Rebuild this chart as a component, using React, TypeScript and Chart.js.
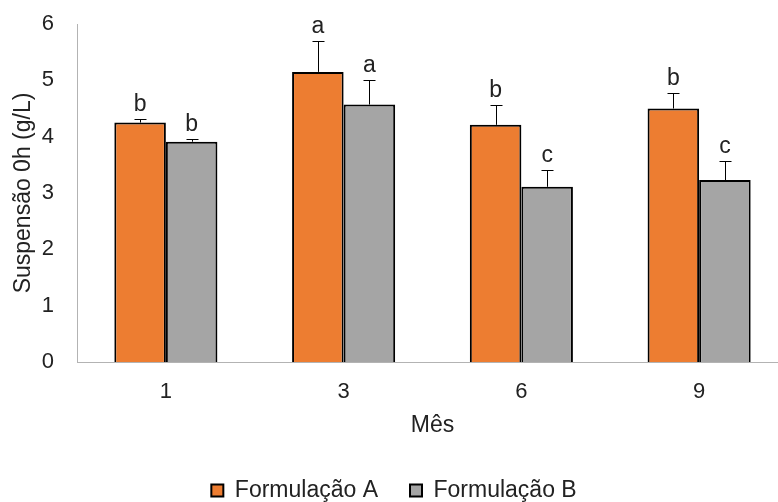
import React, { useEffect, useRef } from 'react';
import { Chart, registerables } from 'chart.js';
Chart.register(...registerables);

const categories = ['1', '3', '6', '9'];
const seriesNames = ['Formulação A', 'Formulação B'];
const valuesA = [4.25, 5.15, 4.21, 4.5];
const valuesB = [3.91, 4.57, 3.11, 3.23];
const errorsA = [0.06, 0.55, 0.35, 0.28];
const errorsB = [0.05, 0.44, 0.3, 0.34];
const lettersA = ['b', 'a', 'b', 'b'];
const lettersB = ['b', 'a', 'c', 'c'];
const yTicks = [0, 1, 2, 3, 4, 5, 6];
const xTitle = 'Mês';
const yTitle = 'Suspensão 0h (g/L)';

const FONT = '"Liberation Sans", Arial, sans-serif';
const TEXT = '#222222';

const errorLetterPlugin = {
  id: 'errorLetters',
  afterDatasetsDraw(chart: any) {
    const ctx = chart.ctx;
    const y = chart.scales.y;
    chart.data.datasets.forEach((ds: any, di: number) => {
      const meta = chart.getDatasetMeta(di);
      meta.data.forEach((bar: any, i: number) => {
        const v = ds.data[i];
        const top = Math.round(y.getPixelForValue(v + ds.errors[i])) + 0.5;
        const base = y.getPixelForValue(v);
        const x = Math.round(bar.x) + 0.5;
        ctx.save();
        ctx.strokeStyle = '#000';
        ctx.lineWidth = 1;
        ctx.beginPath();
        ctx.moveTo(x, base);
        ctx.lineTo(x, top);
        ctx.moveTo(x - 6, top);
        ctx.lineTo(x + 6, top);
        ctx.stroke();
        ctx.fillStyle = TEXT;
        ctx.font = `23px ${FONT}`;
        ctx.textAlign = 'center';
        ctx.textBaseline = 'alphabetic';
        ctx.fillText(ds.letters[i], bar.x, top - 9);
        ctx.restore();
      });
    });
  },
};

export default function App() {
  const ref = useRef<HTMLCanvasElement>(null);
  useEffect(() => {
    if (!ref.current) return;
    const chart = new Chart(ref.current, {
      type: 'bar',
      data: {
        labels: categories,
        datasets: [
          {
            label: seriesNames[0],
            data: valuesA,
            errors: errorsA,
            letters: lettersA,
            backgroundColor: '#ED7D31',
            borderColor: '#000000',
            borderWidth: 2,
            categoryPercentage: 0.58,
            barPercentage: 1,
          } as any,
          {
            label: seriesNames[1],
            data: valuesB,
            errors: errorsB,
            letters: lettersB,
            backgroundColor: '#A5A5A5',
            borderColor: '#000000',
            borderWidth: 2,
            categoryPercentage: 0.58,
            barPercentage: 1,
          } as any,
        ],
      },
      options: {
        responsive: false,
        animation: false,
        layout: { padding: { top: 24, right: 2, bottom: 0, left: 0 } },
        plugins: {
          tooltip: { enabled: false },
          legend: {
            position: 'bottom',
            labels: {
              boxWidth: 12,
              boxHeight: 12,
              padding: 32,
              color: TEXT,
              font: { family: FONT, size: 23 },
            },
          },
        },
        scales: {
          x: {
            grid: { display: false, drawTicks: false },
            border: { display: true, color: '#b3b3b3', width: 1 },
            ticks: { color: TEXT, font: { family: FONT, size: 22 }, padding: 17 },
            title: {
              display: true,
              text: xTitle,
              color: TEXT,
              font: { family: FONT, size: 23 },
              padding: { top: 0, bottom: 8 },
            },
            afterFit: (s: any) => {
              s.height = 85;
            },
          },
          y: {
            min: 0,
            max: 6,
            grid: { display: false, drawTicks: false },
            border: { display: true, color: '#b3b3b3', width: 1 },
            afterBuildTicks: (s: any) => {
              s.ticks = yTicks.map((v) => ({ value: v }));
            },
            ticks: { color: TEXT, font: { family: FONT, size: 22 }, padding: 23 },
            title: {
              display: true,
              text: yTitle,
              color: TEXT,
              font: { family: FONT, size: 23 },
              padding: { top: 10, bottom: 0 },
            },
            afterFit: (s: any) => {
              s.width = 77;
              s.paddingTop = 0;
              s.paddingBottom = 0;
            },
          },
        },
      },
      plugins: [errorLetterPlugin],
    });
    return () => chart.destroy();
  }, []);
  return (
    <div style={{ position: 'fixed', left: 0, top: 0, width: 778, height: 502, overflow: 'hidden', background: '#fff' }}>
      <canvas ref={ref} width={790} height={512} style={{ display: 'block' }} />
    </div>
  );
}
